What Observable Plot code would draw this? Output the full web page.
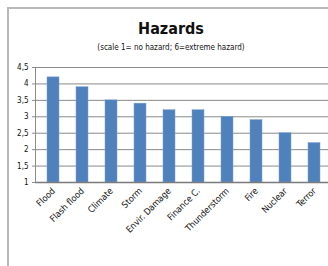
<!DOCTYPE html>
<html><head><meta charset="utf-8">
<script src="https://cdn.jsdelivr.net/npm/d3@7"></script>
<script src="https://cdn.jsdelivr.net/npm/@observablehq/plot@0.6"></script>
<style>
html,body{margin:0;padding:0;background:#fff;overflow:hidden;}
#wrap{position:relative;width:328px;height:266px;overflow:hidden;background:#fff;}
#hline{position:absolute;left:7px;top:7px;width:330px;height:2px;background:#b8b8b8;}
#vline{position:absolute;left:7px;top:7px;width:2px;height:270px;background:#b8b8b8;}
#title{position:absolute;left:0;width:342px;top:19px;text-align:center;font:bold 16px "Liberation Sans Narrow","DejaVu Sans Condensed",sans-serif;color:#111;}
#sub{position:absolute;left:0;width:342px;top:43px;text-align:center;font:8px "Liberation Sans Narrow","DejaVu Sans Condensed",sans-serif;color:#111;}
#chart{position:absolute;left:0;top:0;width:340px;height:266px;}
#chart svg{max-width:none !important;}
</style></head>
<body><div id="wrap"><div id="hline"></div><div id="vline"></div><div id="title">Hazards</div><div id="sub">(scale 1= no hazard; 6=extreme hazard)</div><div id="chart"></div></div>
<script>
const categories = ["Flood","Flash flood","Climate","Storm","Envir. Damage","Finance C.","Thunderstorm","Fire","Nuclear","Terror"];
const values = [4.2,3.9,3.5,3.4,3.2,3.2,3.0,2.9,2.5,2.2];
const yTicks = [1,1.5,2,2.5,3,3.5,4,4.5];
const data = categories.map((c,i)=>({name:c, value:values[i]}));
const chart = Plot.plot({
  width: 340, height: 266,
  marginLeft: 35, marginRight: 9, marginTop: 67, marginBottom: 84,
  style: {fontFamily: '"Liberation Sans Narrow","DejaVu Sans Condensed",sans-serif', fontSize: "8px", color: "#111", background: "transparent", maxWidth: "none"},
  x: {domain: categories, paddingInner: 0.6, paddingOuter: 0.3, label: null},
  y: {domain: [1, 4.5], label: null},
  marks: [
    Plot.gridY(yTicks, {stroke: "#8a8a8a", strokeOpacity: 1}),
    Plot.barY(data, {x: "name", y1: 1, y2: "value", fill: "#4f81bd", stroke: "#7ea3d0", strokeWidth: 0.5}),
    Plot.ruleY([1], {stroke: "#7a7a7a", strokeWidth: 1.5}),
    Plot.axisY(yTicks, {tickSize: 3, tickPadding: 4, stroke: "#8a8a8a", tickFormat: d => String(d).replace(".", ",")}),
    Plot.axisX({tickSize: 0, tickRotate: -45, tickPadding: 7, fontSize: 9}),
    Plot.frame({anchor: "left", stroke: "#8a8a8a"})
  ]
});
document.getElementById("chart").appendChild(chart);
</script></body></html>
